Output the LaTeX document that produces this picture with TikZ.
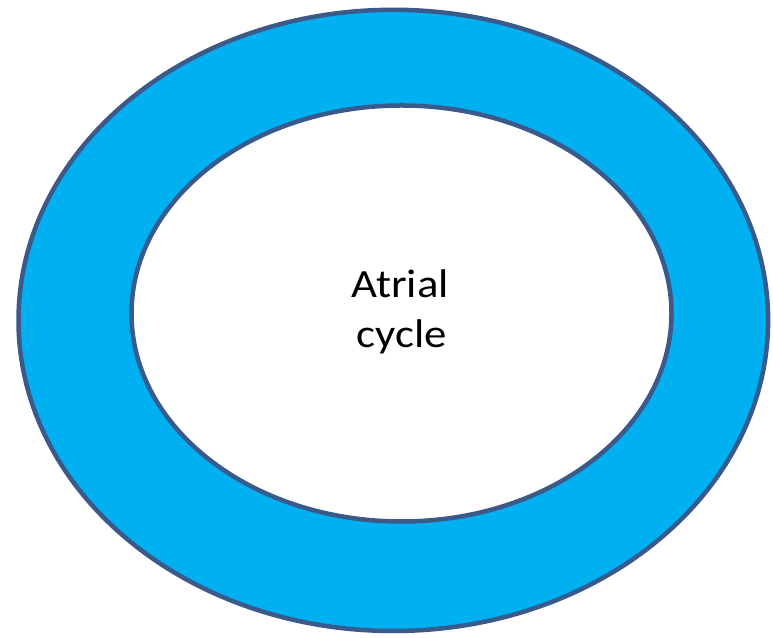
\documentclass[tikz,border=0pt]{standalone}
\usepackage{fontspec}
\setmainfont{Carlito}
\begin{document}
\begin{tikzpicture}[x=1pt,y=1pt,
  ring/.style={draw=ringedge, line width=4.5pt},
  lbl/.style={anchor=base, font=\fontsize{40}{48}\selectfont, text=black, inner sep=0pt, xscale=1.12}]
\definecolor{ringfill}{HTML}{00B0F0}
\definecolor{ringedge}{HTML}{3A5A8C}
\useasboundingbox (0,0) rectangle (773,637);
\path[ring, fill=ringfill] (393.3,316.6) ellipse [x radius=374.8, y radius=310.6];
\path[ring, fill=white] (401.5,323.5) ellipse [x radius=270, y radius=208];
\node[lbl] (line1) at (400,339.7) {Atrial};
\node[lbl] (line2) at (402,289.7) {cycle};
\end{tikzpicture}
\end{document}
